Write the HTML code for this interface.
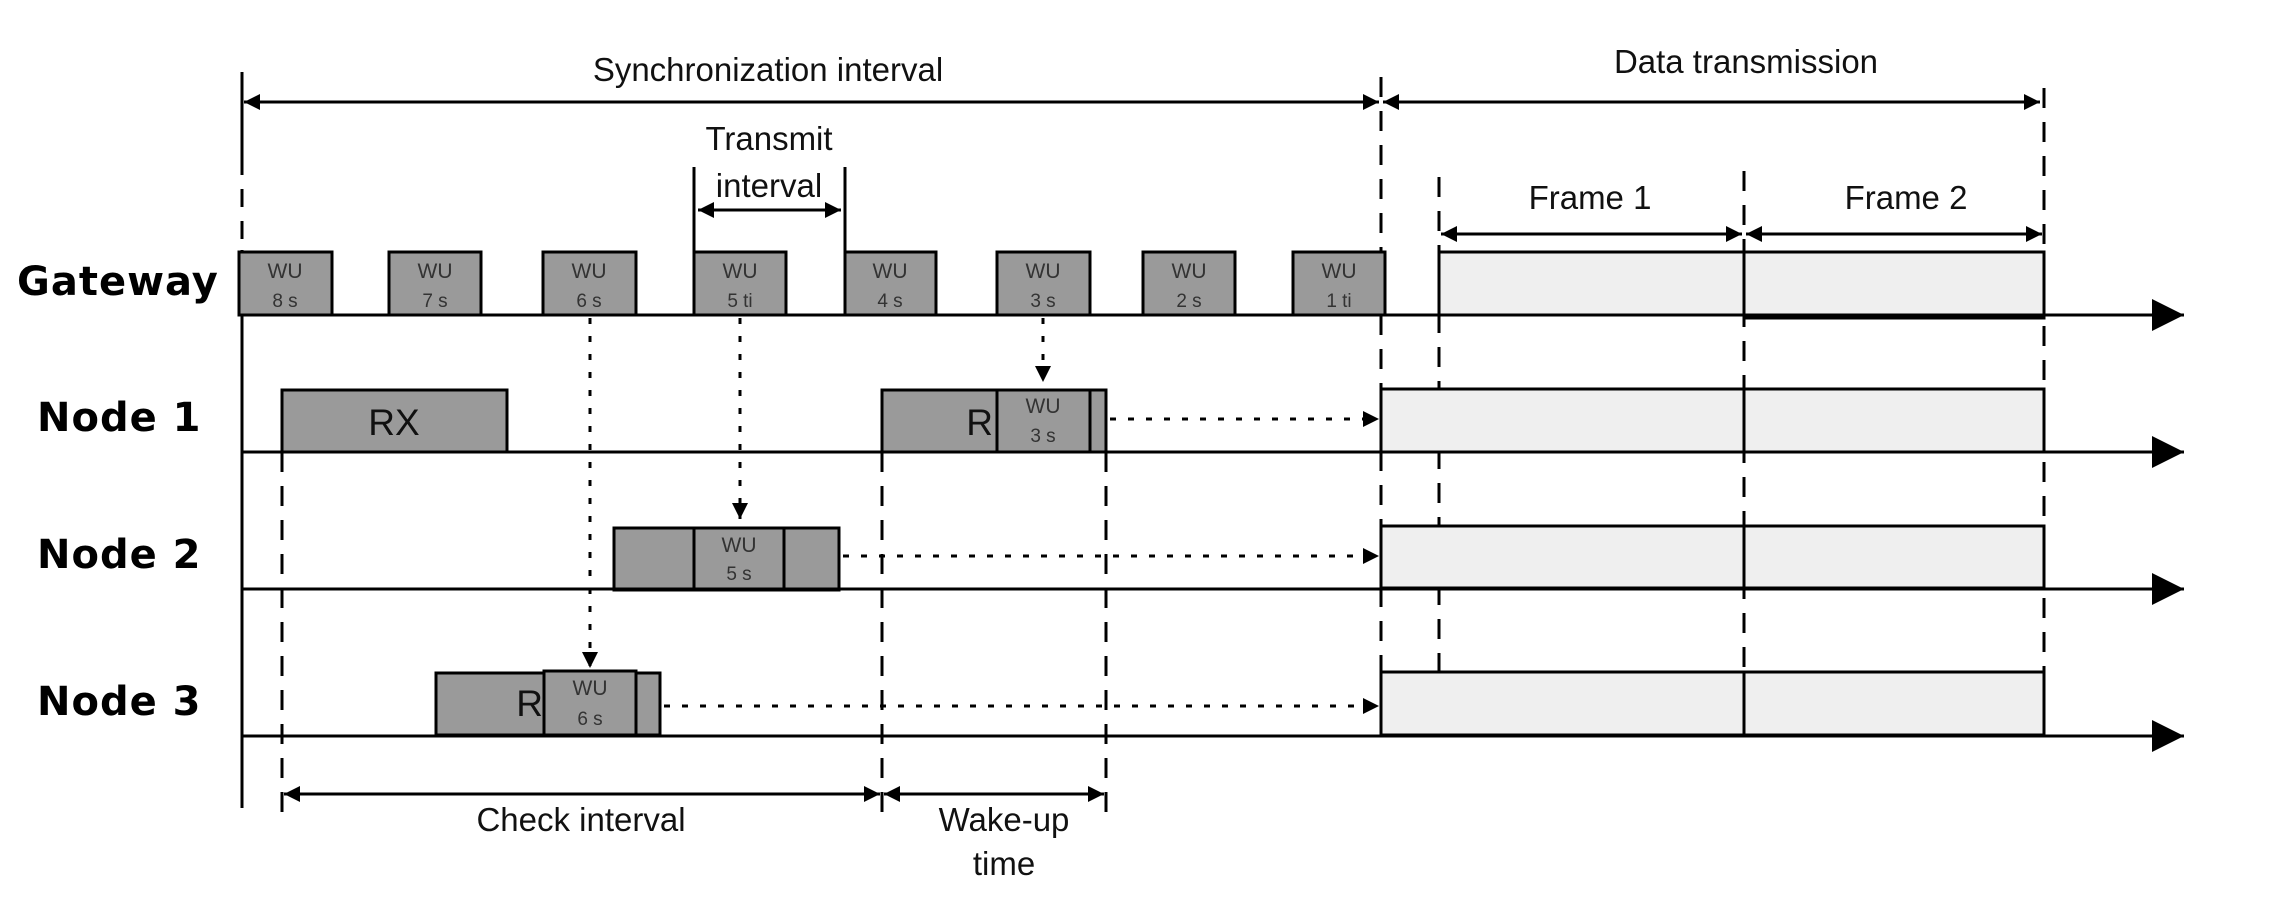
<!DOCTYPE html>
<html><head><meta charset="utf-8"><style>
html,body{margin:0;padding:0;background:#fff;}
svg{display:block;}
.t{font-family:"Liberation Sans",sans-serif;fill:#111;}
.lab{font-family:"DejaVu Sans","Liberation Sans",sans-serif;font-weight:bold;fill:#000;font-size:40px;letter-spacing:1px;}
.wu{font-family:"Liberation Sans",sans-serif;fill:#333;text-anchor:middle;}
</style></head><body>
<svg width="2283" height="924" viewBox="0 0 2283 924" xmlns="http://www.w3.org/2000/svg">
<defs>
<marker id="a" viewBox="0 0 10 10" refX="10" refY="5" markerWidth="22" markerHeight="16" markerUnits="userSpaceOnUse" orient="auto-start-reverse"><path d="M0,0 L10,5 L0,10 z" fill="#000"/></marker>
<marker id="b" viewBox="0 0 10 10" refX="10" refY="5" markerWidth="40" markerHeight="32" markerUnits="userSpaceOnUse" orient="auto"><path d="M0,0 L10,5 L0,10 z" fill="#000"/></marker>
</defs>
<g stroke="#000" stroke-width="3" fill="none">
<line x1="242" y1="72" x2="242" y2="157"/>
<line x1="242" y1="157" x2="242" y2="250" stroke-dasharray="18,14"/>
<line x1="242" y1="250" x2="242" y2="808"/>
<line x1="244" y1="102" x2="1379" y2="102" marker-start="url(#a)" marker-end="url(#a)"/>
<line x1="1383" y1="102" x2="2040" y2="102" marker-start="url(#a)" marker-end="url(#a)"/>
<line x1="1381" y1="77" x2="1381" y2="735" stroke-dasharray="20,14"/>
<line x1="2044" y1="88" x2="2044" y2="735" stroke-dasharray="20,14"/>
<line x1="694" y1="167" x2="694" y2="252"/>
<line x1="845" y1="167" x2="845" y2="252"/>
<line x1="698" y1="210" x2="841" y2="210" marker-start="url(#a)" marker-end="url(#a)"/>
<line x1="1439" y1="177" x2="1439" y2="737" stroke-dasharray="20,14"/>
<line x1="1744" y1="171" x2="1744" y2="737" stroke-dasharray="20,14"/>
<line x1="1441" y1="234" x2="1742" y2="234" marker-start="url(#a)" marker-end="url(#a)"/>
<line x1="1746" y1="234" x2="2042" y2="234" marker-start="url(#a)" marker-end="url(#a)"/>
</g>
<g stroke="#000" stroke-width="3">
<rect x="1439" y="252" width="305" height="63" fill="#efefef"/>
<rect x="1744" y="252" width="300" height="66" fill="#efefef"/>
<rect x="1381" y="389" width="663" height="63" fill="#efefef"/>
<rect x="1381" y="526" width="663" height="62" fill="#efefef"/>
<rect x="1381" y="672" width="663" height="63" fill="#efefef"/>
<line x1="1744" y1="389" x2="1744" y2="452"/>
<line x1="1744" y1="526" x2="1744" y2="588"/>
<line x1="1744" y1="672" x2="1744" y2="735"/>
<line x1="1439" y1="252" x2="1439" y2="315"/>
<g fill="#9a9a9a">
<rect x="239" y="252" width="93" height="63"/>
<rect x="389" y="252" width="92" height="63"/>
<rect x="543" y="252" width="93" height="63"/>
<rect x="694" y="252" width="92" height="63"/>
<rect x="845" y="252" width="91" height="63"/>
<rect x="997" y="252" width="93" height="63"/>
<rect x="1143" y="252" width="92" height="63"/>
<rect x="1293" y="252" width="92" height="63"/>
<rect x="282" y="390" width="225" height="62"/>
<rect x="882" y="390" width="224" height="62"/>
<rect x="997" y="390" width="93" height="62"/>
<rect x="614" y="528" width="225" height="62"/>
<rect x="694" y="528" width="90" height="62"/>
<rect x="436" y="673" width="224" height="62"/>
<rect x="544" y="671" width="92" height="64"/>
</g>
<line x1="239" y1="315" x2="2184" y2="315" fill="none" marker-end="url(#b)"/>
<line x1="242" y1="452" x2="2184" y2="452" fill="none" marker-end="url(#b)"/>
<line x1="242" y1="589" x2="2184" y2="589" fill="none" marker-end="url(#b)"/>
<line x1="242" y1="736" x2="2184" y2="736" fill="none" marker-end="url(#b)"/>
</g>
<g stroke="#000" stroke-width="3" fill="none">
<line x1="282" y1="452" x2="282" y2="820" stroke-dasharray="20,14"/>
<line x1="882" y1="452" x2="882" y2="815" stroke-dasharray="20,14"/>
<line x1="1106" y1="452" x2="1106" y2="815" stroke-dasharray="20,14"/>
<line x1="284" y1="794" x2="880" y2="794" marker-start="url(#a)" marker-end="url(#a)"/>
<line x1="884" y1="794" x2="1104" y2="794" marker-start="url(#a)" marker-end="url(#a)"/>
<g stroke-dasharray="6,12">
<line x1="590" y1="318" x2="590" y2="668" marker-end="url(#a)"/>
<line x1="740" y1="318" x2="740" y2="519" marker-end="url(#a)"/>
<line x1="1043" y1="318" x2="1043" y2="382" marker-end="url(#a)"/>
<line x1="1110" y1="419" x2="1379" y2="419" marker-end="url(#a)"/>
<line x1="843" y1="556" x2="1379" y2="556" marker-end="url(#a)"/>
<line x1="664" y1="706" x2="1379" y2="706" marker-end="url(#a)"/>
</g>
</g>
<g class="t" font-size="33" text-anchor="middle">
<text x="768" y="81">Synchronization interval</text>
<text x="1746" y="73">Data transmission</text>
<text x="769" y="150">Transmit</text>
<text x="769" y="197">interval</text>
<text x="1590" y="209">Frame 1</text>
<text x="1906" y="209">Frame 2</text>
<text x="581" y="831">Check interval</text>
<text x="1004" y="831">Wake-up</text>
<text x="1004" y="875">time</text>
<text x="394" y="435" font-size="37">RX</text>
<text x="993" y="435" font-size="37" text-anchor="end">R</text>
<text x="543" y="716" font-size="37" text-anchor="end">R</text>
</g>
<text class="lab" x="17" y="295">Gateway</text>
<text class="lab" x="37" y="431">Node 1</text>
<text class="lab" x="37" y="568">Node 2</text>
<text class="lab" x="37" y="715">Node 3</text>
<g class="wu">
<g font-size="21">
<text x="285" y="278">WU</text><text x="435" y="278">WU</text><text x="589" y="278">WU</text><text x="740" y="278">WU</text>
<text x="890" y="278">WU</text><text x="1043" y="278">WU</text><text x="1189" y="278">WU</text><text x="1339" y="278">WU</text>
<text x="1043" y="413">WU</text><text x="739" y="552">WU</text><text x="590" y="695">WU</text>
</g>
<g font-size="19">
<text x="285" y="307">8 s</text><text x="435" y="307">7 s</text><text x="589" y="307">6 s</text><text x="740" y="307">5 ti</text>
<text x="890" y="307">4 s</text><text x="1043" y="307">3 s</text><text x="1189" y="307">2 s</text><text x="1339" y="307">1 ti</text>
<text x="1043" y="442">3 s</text><text x="739" y="580">5 s</text><text x="590" y="725">6 s</text>
</g>
</g>
</svg>
</body></html>
